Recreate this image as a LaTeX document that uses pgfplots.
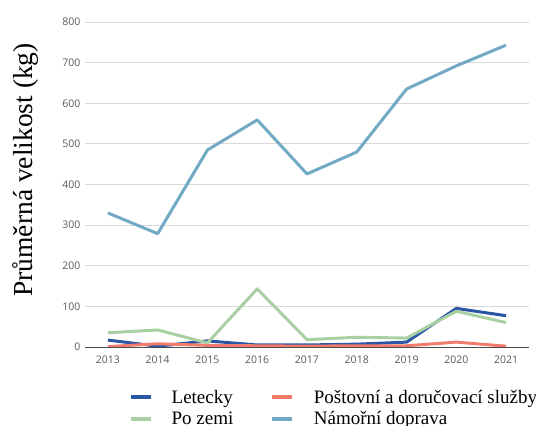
\documentclass[border=0pt]{standalone}
\usepackage{fontspec}
\setmainfont{Liberation Serif}
\newfontfamily\tickfont{Open Sans}
\usepackage{pgfplots}
\pgfplotsset{compat=1.18}

\definecolor{letecky}{HTML}{2B55A5}
\definecolor{zemi}{HTML}{A8D0A2}
\definecolor{posta}{HTML}{F27C6C}
\definecolor{more}{HTML}{72AAC6}
\definecolor{tickgray}{HTML}{5A5A5A}

\begin{document}
\begin{tikzpicture}
\path[use as bounding box] (0,0) rectangle (536bp,426bp);
\begin{axis}[
    at={(85bp,79bp)}, anchor=south west,
    scale only axis,
    width=444bp, height=325bp,
    xmin=2012.54, xmax=2021.46,
    ymin=0, ymax=800,
    xtick={2013,...,2021},
    ytick={0,100,...,800},
    x tick label style={/pgf/number format/1000 sep={}},
    tick label style={font=\tickfont\fontsize{10.5bp}{12bp}\selectfont, text=tickgray},
    /pgf/number format/assume math mode=true,
    axis x line=bottom, axis y line=left,
    x axis line style={-, draw=black!70, line width=0.8bp},
    y axis line style={draw=none},
    major tick length=0pt,
    xticklabel shift=5bp,
    yticklabel style={xshift=-1bp},
    ymajorgrids, grid style={draw=black!15, line width=0.8bp},
    ylabel={Průměrná velikost (kg)},
    ylabel style={at={(axis description cs:-0.135,0.545)}, anchor=center, rotate=0,
        font=\fontsize{27.5bp}{30bp}\selectfont},
    legend columns=2,
    legend style={draw=none, at={(0.099,-0.125)}, anchor=north west,
        font=\fontsize{19bp}{19bp}\selectfont, inner sep=0pt,
        row sep=3bp,
        /tikz/column 1/.style={column sep=16bp},
        /tikz/column 2/.style={column sep=34bp},
        /tikz/column 3/.style={column sep=18bp}},
    legend cell align=left,
    legend image code/.code={\draw[line width=4.5bp] (0bp,0bp) -- (20bp,0bp);},
    every axis plot/.append style={line width=3bp, line join=round},
]
\addplot[color=letecky] coordinates {
    (2013,17) (2014,2) (2015,15) (2016,5) (2017,5) (2018,7) (2019,12) (2020,95) (2021,77)
};
\addplot[color=posta] coordinates {
    (2013,1) (2014,8) (2015,4) (2016,3) (2017,2) (2018,3) (2019,3) (2020,12) (2021,2)
};
\addplot[color=zemi] coordinates {
    (2013,35) (2014,42) (2015,10) (2016,143) (2017,18) (2018,24) (2019,22) (2020,88) (2021,60)
};
\addplot[color=more] coordinates {
    (2013,330) (2014,279) (2015,485) (2016,559) (2017,426) (2018,480) (2019,635) (2020,692) (2021,743)
};
\legend{Letecky, Poštovní a doručovací služby, Po zemi, Námořní doprava}
\end{axis}
\end{tikzpicture}
\end{document}
